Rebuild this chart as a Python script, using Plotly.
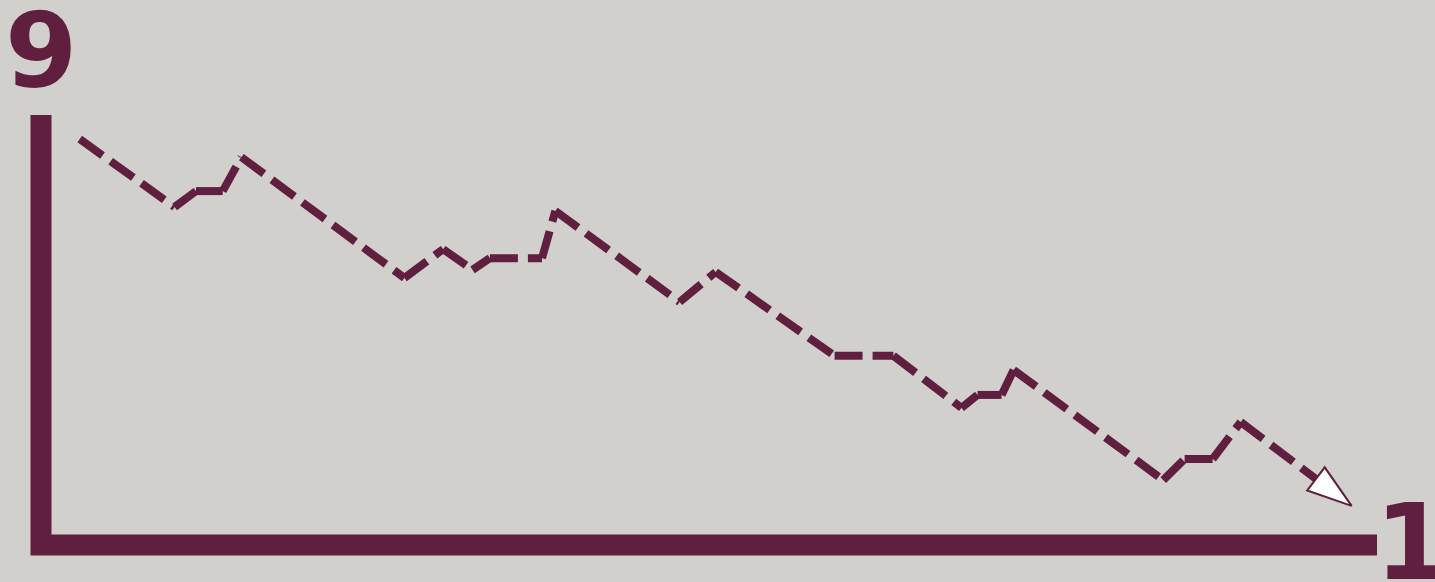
import plotly.graph_objects as go

# Data (x: 0-100 along the horizontal axis, y: 0-100 up the vertical axis)
x_vals = [2.9, 10.0, 11.6, 13.6, 15.0, 27.2, 30.1, 32.3, 33.6, 37.5, 38.5, 47.8,
          50.5, 59.4, 63.8, 68.9, 70.1, 71.9, 72.8, 84.0, 85.6, 87.7, 89.8, 98.1]
y_vals = [94.4, 78.6, 82.3, 82.3, 90.2, 62.1, 68.8, 64.0, 66.7, 66.7, 77.7, 56.5,
          63.5, 44.0, 44.0, 31.9, 34.9, 34.9, 40.7, 15.1, 20.0, 20.0, 28.6, 9.1]
y_label_top = "9"
x_label_end = "1"

MAROON = "#611F40"
BG = "#D1D0CC"

n = len(x_vals)
sizes = [0] * (n - 1) + [47]
mline = [0] * (n - 1) + [2]

fig = go.Figure()
fig.add_trace(go.Scatter(
    x=x_vals, y=y_vals, mode="lines+markers",
    line=dict(color=MAROON, width=8, dash="28px,10px"),
    marker=dict(symbol="arrow", size=sizes, color="#FFFFFF", opacity=1,
                angleref="previous",
                line=dict(color=MAROON, width=mline)),
    hoverinfo="skip", showlegend=False, cliponaxis=False,
))

fig.add_shape(type="path", xref="paper", yref="paper",
              path="M 0,1 L 0,0 L 1,0",
              line=dict(color=MAROON, width=21), layer="below")

fig.add_annotation(text=y_label_top, xref="paper", yref="paper",
                   x=0.0, y=1.149, xanchor="center", yanchor="middle",
                   showarrow=False,
                   font=dict(family="DejaVu Sans", size=104, color=MAROON, weight="bold"))
fig.add_annotation(text=x_label_end, xref="paper", yref="paper",
                   x=1.0265, y=0.006, xanchor="center", yanchor="middle",
                   showarrow=False,
                   font=dict(family="DejaVu Sans", size=106, color=MAROON, weight="bold"))

fig.update_layout(
    width=1435, height=582,
    margin=dict(l=41, r=58, t=115, b=37, pad=0),
    paper_bgcolor=BG, plot_bgcolor=BG,
    xaxis=dict(range=[0, 100], visible=False, fixedrange=True),
    yaxis=dict(range=[0, 100], visible=False, fixedrange=True),
)

fig.write_html("out.html", config={"displayModeBar": False, "staticPlot": True},
               post_script="document.body.style.margin='0';document.body.style.background='" + BG + "';")
